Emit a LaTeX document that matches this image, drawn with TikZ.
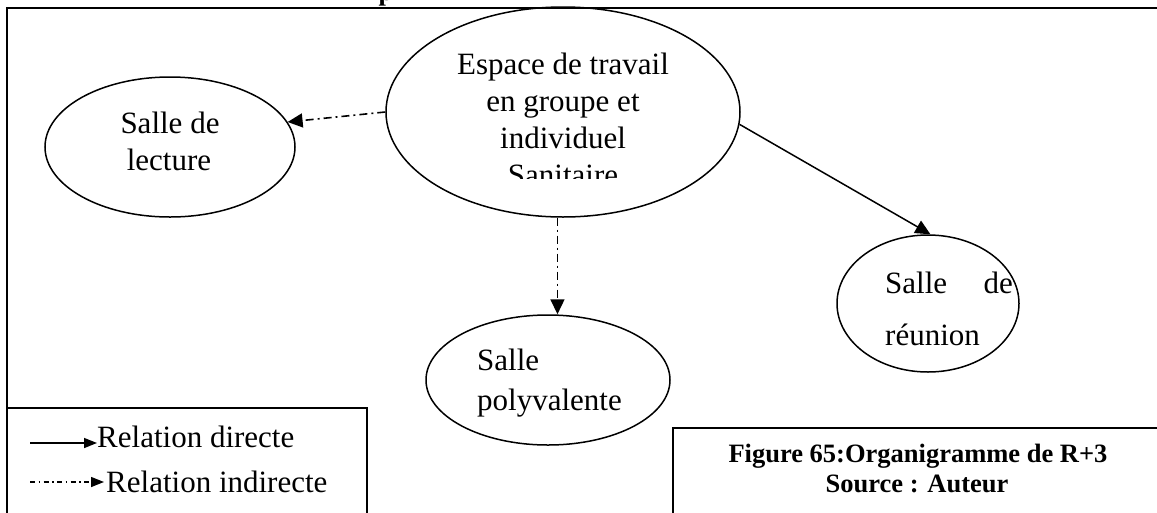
\documentclass[tikz,border=0pt]{standalone}
\usepackage{fontspec}
\setmainfont{Liberation Serif}
\usetikzlibrary{shapes.geometric,arrows.meta}
\begin{document}
\begin{tikzpicture}[x=1pt,y=-1pt,
  bubble/.style={draw,ellipse,line width=1.5pt,inner sep=0pt},
  txt/.style={inner sep=0pt,anchor=base,font=\fontsize{31}{37}\selectfont},
  txtl/.style={txt,anchor=base west},
  txtr/.style={txt,anchor=base east},
  capt/.style={inner sep=0pt,anchor=base,font=\bfseries\fontsize{26.5}{30}\selectfont},
  frameline/.style={line width=1.7pt},
  direct/.style={line width=1.5pt,-{Triangle[length=15pt,width=14pt]}},
  indirect/.style={line width=1.6pt,dash pattern=on 8pt off 4pt on 2pt off 4pt,-{Triangle[length=15pt,width=14pt]}},
  legdirect/.style={line width=1.5pt,-{Triangle[length=13pt,width=10pt]}},
  legindirect/.style={line width=1.4pt,dash pattern=on 5pt off 3.5pt on 1.5pt off 3.5pt,-{Triangle[length=13pt,width=10pt]}}
]
\useasboundingbox (0,0) rectangle (1157,512);
\fill[white] (0,0) rectangle (1157,512);
% partially visible heading glyph
\node[capt] (head) at (386,0) {p};
% outer frame
\draw[line width=2.4pt] (7,520) -- (7,8) -- (1165,8);
% ellipses
\node[bubble,minimum width=354pt,minimum height=210pt] (main) at (563,112) {};
\node[bubble,minimum width=250pt,minimum height=140pt] (lect) at (170,147) {};
\node[bubble,minimum width=244pt,minimum height=130pt] (poly) at (548,380) {};
\node[bubble,minimum width=182pt,minimum height=137pt] (reun) at (928,303.5) {};
% main text (clipped at the bottom)
\begin{scope}
\clip (380,0) rectangle (750,178);
\node[txt] (m1) at (563,74) {Espace de travail};
\node[txt] (m2) at (563,111) {en groupe et};
\node[txt] (m3) at (563,148) {individuel};
\node[txt] (m4) at (563,185) {Sanitaire};
\end{scope}
\node[txt] (l1t) at (170,133) {Salle de};
\node[txt] (l2t) at (169,170) {lecture};
\node[txtl] (p1t) at (477,370) {Salle};
\node[txtl] (p2t) at (477,410) {polyvalente};
\node[txtl] (r1t) at (885,293) {Salle};
\node[txtr] (r2t) at (1013,293) {de};
\node[txtl] (r3t) at (885,345) {réunion};
% connectors
\draw[indirect] (main.180) -- (lect.12);
\draw[indirect] (main.267) -- (main.267 |- poly.north);
\draw[direct] (main.-4) -- (reun.88);
% legend box
\draw[frameline] (7,408) -- (367,408) -- (367,520);
\node[txtl] (leg1) at (97,447) {Relation directe};
\node[txtl] (leg2) at (106,492) {Relation indirecte};
\coordinate (a1) at (30,443);
\coordinate (a2) at (30,482);
\draw[legdirect] (a1) -- (leg1.west |- a1);
\draw[legindirect,shorten >=2pt] (a2) -- (leg2.west |- a2);
% caption box
\draw[frameline] (673,520) -- (673,428) -- (1165,428);
\node[capt] (c1) at (918,462) {Figure 65:Organigramme de R+3};
\node[capt] (c2) at (917,492) {Source : Auteur};
\end{tikzpicture}
\end{document}
